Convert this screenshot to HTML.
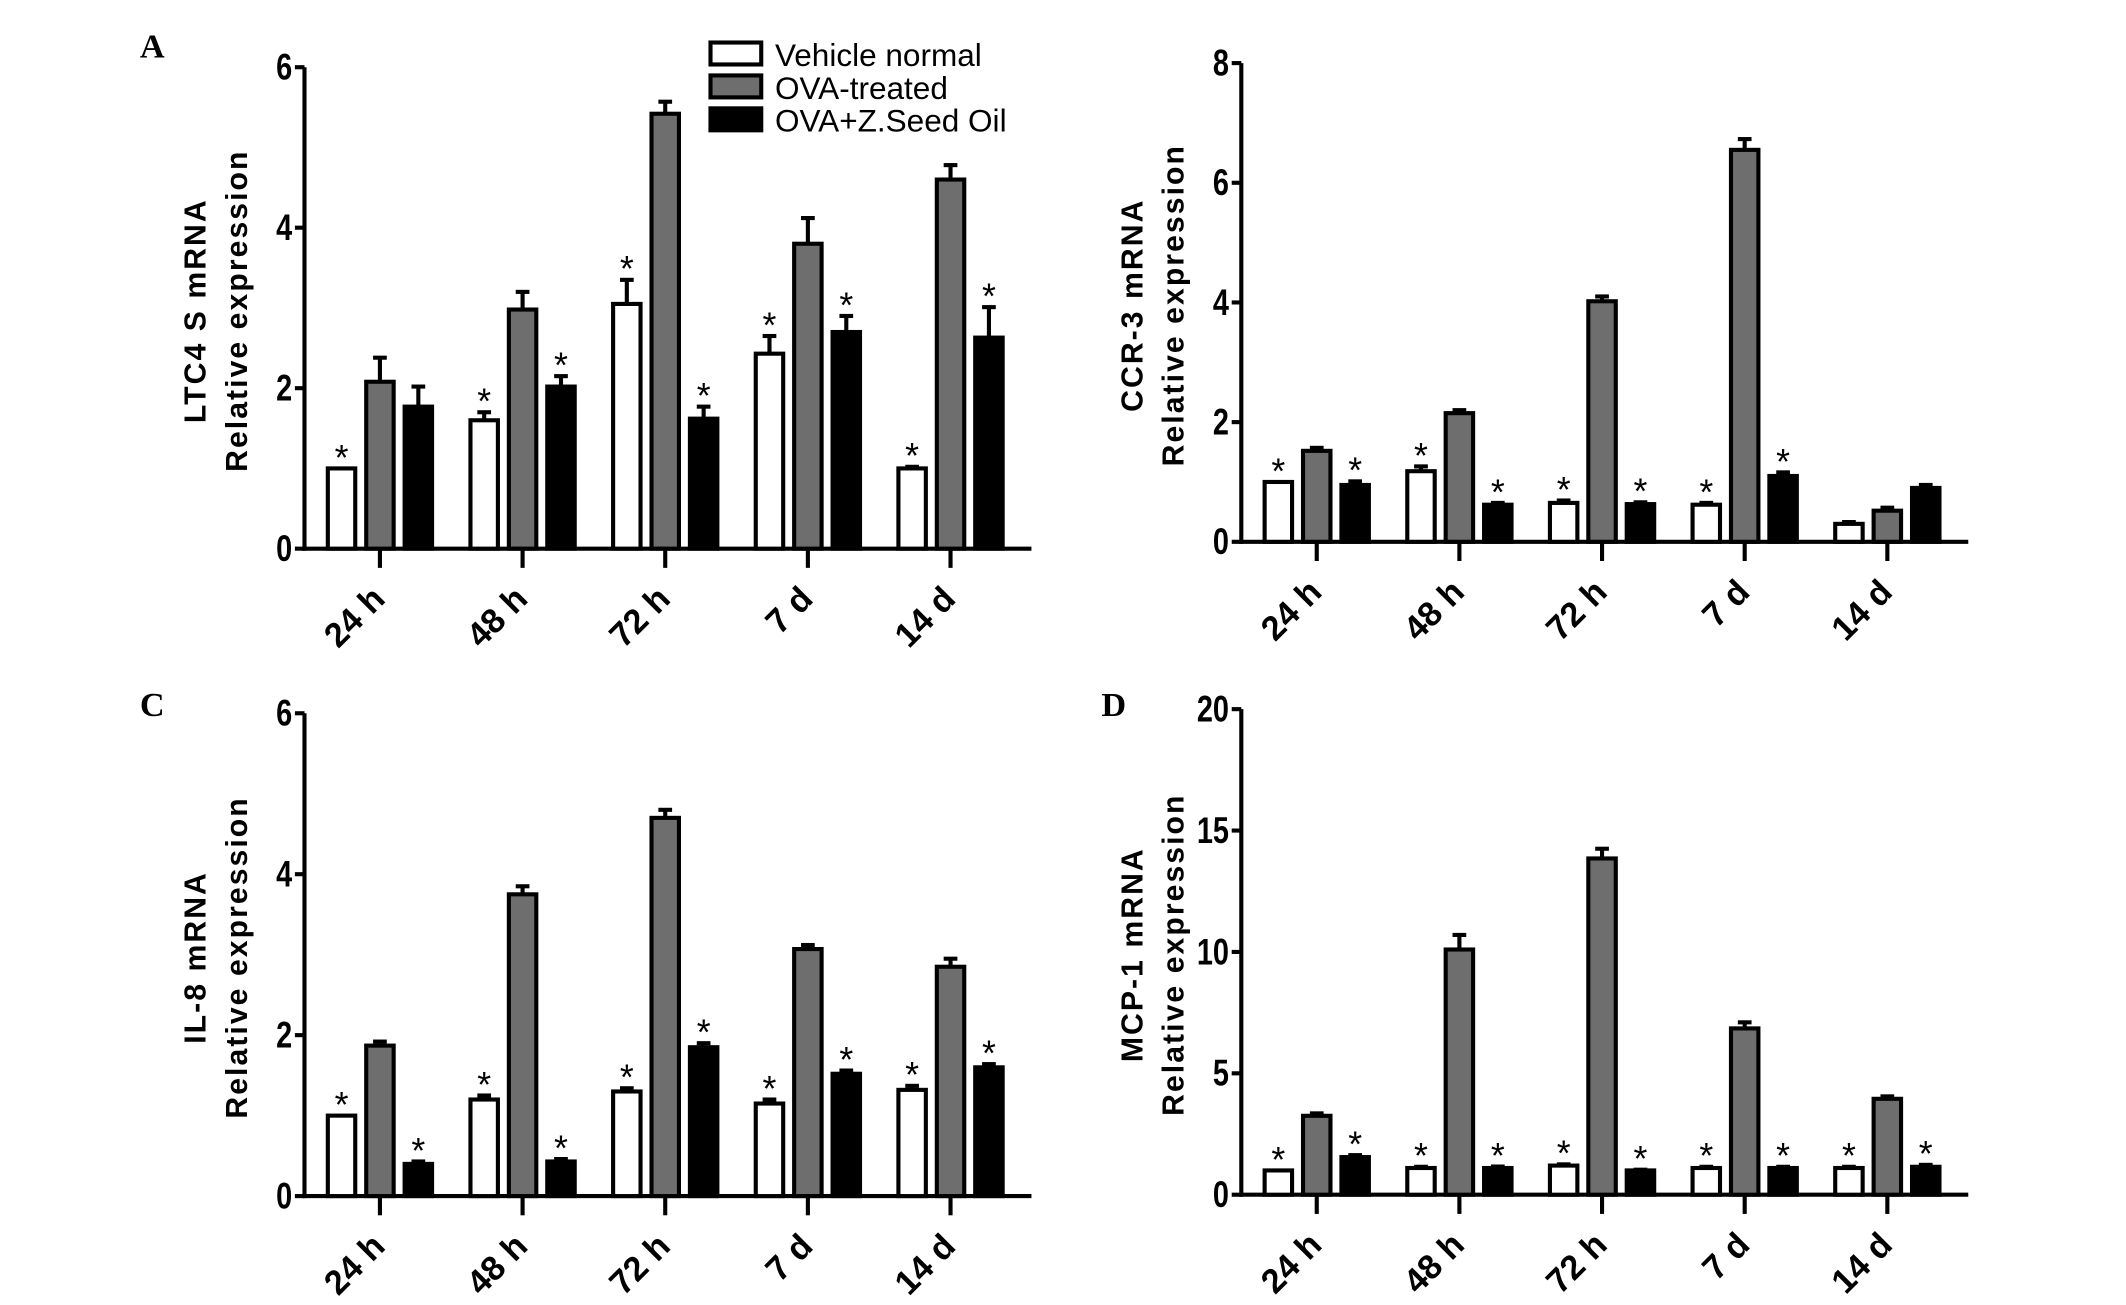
<!DOCTYPE html>
<html><head><meta charset="utf-8"><style>
html,body{margin:0;padding:0;background:#fff}
svg{display:block}
text{font-family:"Liberation Sans",Arial,sans-serif;font-weight:bold;fill:#000}
text.norm{font-weight:normal}
</style></head><body>
<svg id="fig" width="2126" height="1305" viewBox="0 0 1550 951.4" preserveAspectRatio="none" xmlns="http://www.w3.org/2000/svg"></svg>
<script>
const categories = ["24 h","48 h","72 h","7 d","14 d"];
const seriesNames = ["Vehicle normal","OVA-treated","OVA+Z.Seed Oil"];
// Panel A: LTC4 S
const aWhite = [1.0,1.6,3.05,2.43,1.0];
const aWhiteErr = [0,0.1,0.3,0.22,0.02];
const aGray = [2.08,2.98,5.42,3.8,4.6];
const aGrayErr = [0.3,0.22,0.15,0.32,0.18];
const aBlack = [1.77,2.02,1.62,2.7,2.63];
const aBlackErr = [0.25,0.13,0.15,0.2,0.38];
const aStarsWhite = [1,1,1,1,1];
const aStarsBlack = [0,1,1,1,1];
const aTicks = [0,2,4,6];
// Panel B: CCR-3
const bWhite = [1.0,1.18,0.65,0.62,0.3];
const bWhiteErr = [0,0.08,0.04,0.03,0.03];
const bGray = [1.52,2.15,4.02,6.55,0.52];
const bGrayErr = [0.05,0.05,0.08,0.18,0.05];
const bBlack = [0.95,0.62,0.63,1.1,0.9];
const bBlackErr = [0.06,0.03,0.03,0.06,0.05];
const bStarsWhite = [1,1,1,1,0];
const bStarsBlack = [1,1,1,1,0];
const bTicks = [0,2,4,6,8];
// Panel C: IL-8
const cWhite = [1.0,1.2,1.3,1.15,1.32];
const cWhiteErr = [0,0.05,0.04,0.05,0.05];
const cGray = [1.87,3.75,4.7,3.07,2.85];
const cGrayErr = [0.05,0.1,0.1,0.05,0.1];
const cBlack = [0.4,0.43,1.85,1.52,1.6];
const cBlackErr = [0.03,0.03,0.05,0.04,0.04];
const cStarsWhite = [1,1,1,1,1];
const cStarsBlack = [1,1,1,1,1];
const cTicks = [0,2,4,6];
// Panel D: MCP-1
const dWhite = [1.0,1.1,1.2,1.1,1.1];
const dWhiteErr = [0,0.05,0.05,0.05,0.05];
const dGray = [3.25,10.1,13.85,6.85,3.95];
const dGrayErr = [0.1,0.6,0.4,0.25,0.1];
const dBlack = [1.55,1.1,1.0,1.1,1.15];
const dBlackErr = [0.08,0.06,0.03,0.05,0.08];
const dStarsWhite = [1,1,1,1,1];
const dStarsBlack = [1,1,1,1,1];
const dTicks = [0,5,10,15,20];

const NS="http://www.w3.org/2000/svg";
const svg=document.getElementById('fig');
function mk(tag,attrs,parent){const e=document.createElementNS(NS,tag);for(const k in attrs)e.setAttribute(k,attrs[k]);(parent||svg).appendChild(e);return e;}

function panel(cfg){
  const g=mk('g',{});
  
  
  const ymax=cfg.ticks[cfg.ticks.length-1];
  const yS=v=>cfg.y0-(v/ymax)*(cfg.y0-cfg.yTop);
  const xS=i=>cfg.ax+55+i*104;
  const ya=mk('line',{x1:cfg.ax,x2:cfg.ax,y1:cfg.yTop,y2:cfg.y0+1.5,stroke:'#000','stroke-width':3},g);
  
  
  const xa=mk('line',{x1:cfg.ax-1.5,x2:cfg.ax+530,y1:cfg.y0,y2:cfg.y0,stroke:'#000','stroke-width':3},g);
  
  
  cfg.ticks.forEach(t=>{
    mk('line',{x1:cfg.ax-7,x2:cfg.ax,y1:yS(t),y2:yS(t),stroke:'#000','stroke-width':3},g);
    const tl=mk('text',{x:cfg.ax-9,y:yS(t)+9,'text-anchor':'end','font-size':27,transform:`translate(${cfg.ax-9},0) scale(0.78,1) translate(${-(cfg.ax-9)},0)`},g);
    tl.textContent=t;
    
    
  });
  categories.forEach((c,i)=>{
    const x=xS(i);
    mk('line',{x1:x,x2:x,y1:cfg.y0,y2:cfg.y0+14,stroke:'#000','stroke-width':3},g);
    const tx=x+5, ty=cfg.y0+38;
    const xl=mk('text',{x:tx,y:ty,'text-anchor':'end','font-size':25,transform:`rotate(-45 ${tx} ${ty})`},g);
    xl.textContent=c;
    
    
  });
  const sets=[[cfg.white,cfg.whiteErr,'#fff',-28,cfg.starsW],[cfg.gray,cfg.grayErr,'#6e6e6e',0,null],[cfg.black,cfg.blackErr,'#000',28,cfg.starsB]];
  sets.forEach((s,si)=>{
    s[0].forEach((v,i)=>{
      const cx=xS(i)+s[3];
      const top=yS(v), eTop=yS(v+s[1][i]);
      if(s[1][i]>0){
        mk('line',{x1:cx,x2:cx,y1:eTop,y2:top,stroke:'#000','stroke-width':3},g);
        mk('line',{x1:cx-5,x2:cx+5,y1:eTop,y2:eTop,stroke:'#000','stroke-width':3},g);
      }
      const b=mk('rect',{x:cx-10,y:top,width:20,height:cfg.y0-top,fill:s[2],stroke:'#000','stroke-width':3},g);
      
      
      if(s[4]&&s[4][i]){
        const st=mk('text',{x:cx,y:eTop+1,'text-anchor':'middle','font-size':26,class:'norm'},g);
        st.textContent='*';
        
        
      }
    });
  });
  const ymid=(cfg.y0+cfg.yTop)/2+2;
  const t1=mk('text',{x:cfg.ax-72,y:ymid,'text-anchor':'middle','font-size':22,'letter-spacing':1.5,transform:`rotate(-90 ${cfg.ax-72} ${ymid})`},g);
  t1.textContent=cfg.title;
  
  
  const t2=mk('text',{x:cfg.ax-42,y:ymid,'text-anchor':'middle','font-size':22,'letter-spacing':1.5,transform:`rotate(-90 ${cfg.ax-42} ${ymid})`},g);
  t2.textContent='Relative expression';
  
  
  if(cfg.letter){
    const L=mk('text',{x:cfg.lx,y:cfg.ly,'font-size':25,style:'font-family:"Liberation Serif",serif'},g);
    L.textContent=cfg.letter;
    
    
  }
}
panel({name:'panel-a',ax:222,y0:400,yTop:49,ticks:aTicks,title:'LTC4 S mRNA',white:aWhite,whiteErr:aWhiteErr,gray:aGray,grayErr:aGrayErr,black:aBlack,blackErr:aBlackErr,starsW:aStarsWhite,starsB:aStarsBlack,letter:'A',lx:102,ly:42});
panel({name:'panel-b',ax:905,y0:395,yTop:46,ticks:bTicks,title:'CCR-3 mRNA',white:bWhite,whiteErr:bWhiteErr,gray:bGray,grayErr:bGrayErr,black:bBlack,blackErr:bBlackErr,starsW:bStarsWhite,starsB:bStarsBlack});
panel({name:'panel-c',ax:222,y0:872,yTop:520,ticks:cTicks,title:'IL-8 mRNA',white:cWhite,whiteErr:cWhiteErr,gray:cGray,grayErr:cGrayErr,black:cBlack,blackErr:cBlackErr,starsW:cStarsWhite,starsB:cStarsBlack,letter:'C',lx:102,ly:522});
panel({name:'panel-d',ax:905,y0:871,yTop:517,ticks:dTicks,title:'MCP-1 mRNA',white:dWhite,whiteErr:dWhiteErr,gray:dGray,grayErr:dGrayErr,black:dBlack,blackErr:dBlackErr,starsW:dStarsWhite,starsB:dStarsBlack,letter:'D',lx:803,ly:522});
const lg=mk('g',{});


const lfill=['#fff','#6e6e6e','#000'];
seriesNames.forEach((n,i)=>{
  const y=31+i*24;
  const r=mk('rect',{x:518,y:y,width:37,height:16,fill:lfill[i],stroke:'#000','stroke-width':3},lg);
  
  
  const t=mk('text',{x:565,y:y+17,'font-size':23,class:'norm'},lg);
  t.textContent=n;
  
  
});
</script>
</body></html>
